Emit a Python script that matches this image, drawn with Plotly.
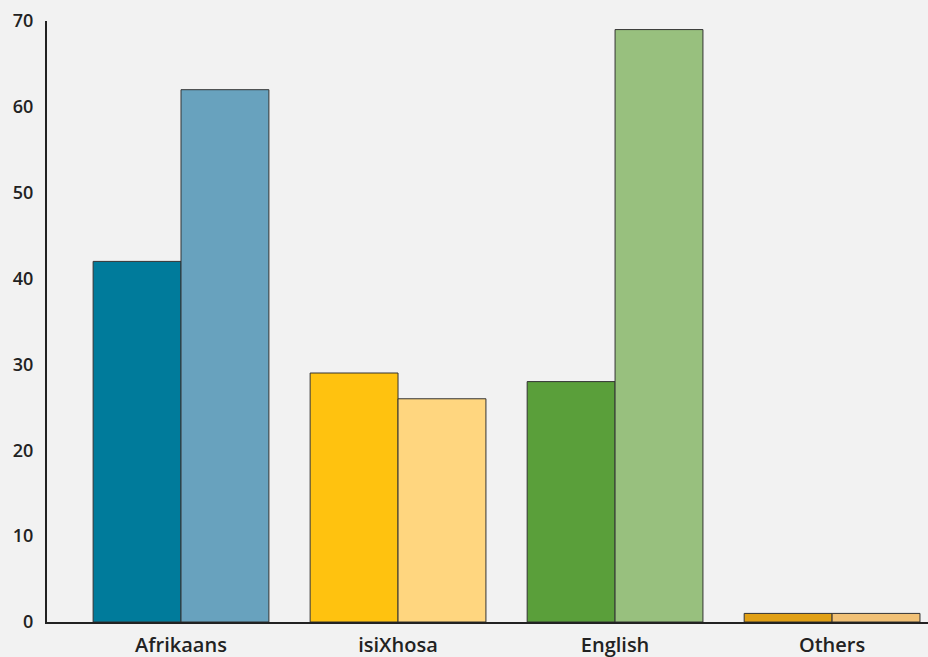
import plotly.graph_objects as go

categories = ["Afrikaans", "isiXhosa", "English", "Others"]
series_a = [42, 29, 28, 1]
series_b = [62, 26, 69, 1]
colors_a = ["#007B9B", "#FFC20F", "#5A9F3A", "#E1A015"]
colors_b = ["#68A2BE", "#FFD67F", "#98C07E", "#F1C176"]
y_ticks = [0, 10, 20, 30, 40, 50, 60, 70]

fig = go.Figure()
fig.add_trace(go.Bar(x=categories, y=series_a, marker=dict(color=colors_a, line=dict(color="#333333", width=1)), showlegend=False))
fig.add_trace(go.Bar(x=categories, y=series_b, marker=dict(color=colors_b, line=dict(color="#333333", width=1)), showlegend=False))

font_family = "Open Sans, Lato, DejaVu Sans, sans-serif"
fig.update_layout(
    width=928, height=657,
    margin=dict(l=47, r=0, t=21, b=35, pad=0),
    barmode="group", bargap=0.19, bargroupgap=0,
    paper_bgcolor="#f2f2f2", plot_bgcolor="#f2f2f2",
    font=dict(family=font_family, size=15, color="#222222"),
)
fig.update_xaxes(
    range=[-0.6175, 3.442], showline=True, linecolor="#222222", linewidth=2,
    showgrid=False, zeroline=False, ticks="", ticklabelstandoff=4, automargin=False,
    tickfont=dict(family=font_family, size=20, color="#222222", weight=600),
)
fig.update_yaxes(
    range=[0, 70], tickvals=y_ticks, showline=True, linecolor="#222222", linewidth=2,
    showgrid=False, zeroline=False, ticks="", ticklabelstandoff=8, automargin=False,
    tickfont=dict(family=font_family, size=18, color="#222222", weight=600),
)
fig.write_html(
    "out.html",
    config={"displayModeBar": False},
    post_script="document.body.style.margin='0';document.body.style.background='#f2f2f2';",
)
